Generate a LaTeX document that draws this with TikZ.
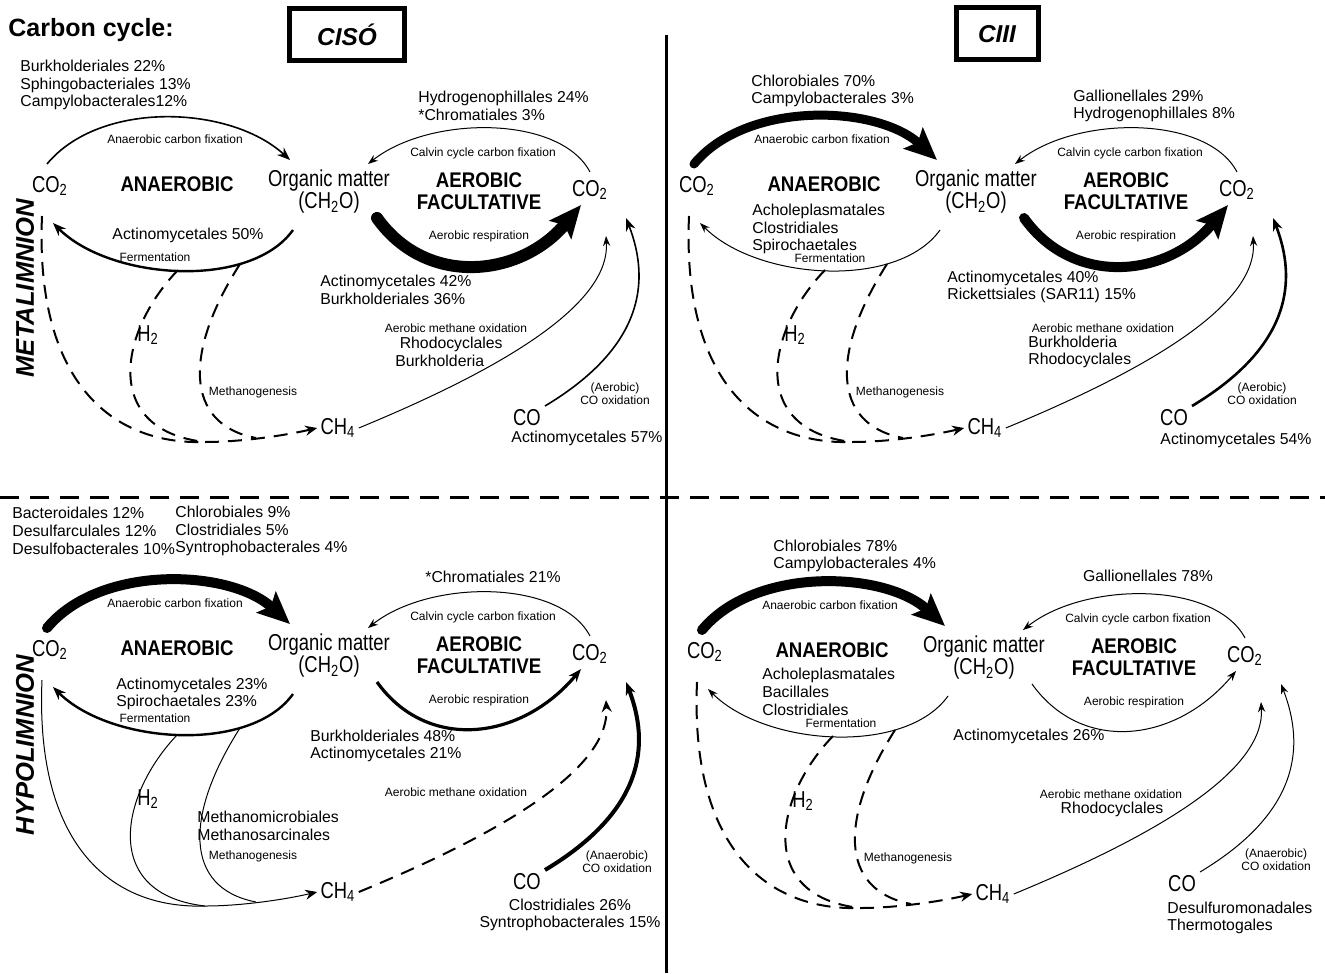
\documentclass[tikz,border=0pt]{standalone}
\usepackage{fontspec}
\setmainfont{Liberation Sans}
\newfontfamily\narrowfont[FakeStretch=0.8]{Liberation Sans}
\newfontfamily\zonefont[FakeStretch=0.88]{Liberation Sans}
\usetikzlibrary{arrows.meta}
\tikzset{chem/.style={font=\narrowfont\fontsize{11.5}{11}\selectfont,inner sep=1.5pt,align=center},
 zone/.style={font=\zonefont\bfseries\fontsize{10.6}{11}\selectfont,align=center,inner sep=0pt},
 taxa/.style={font=\fontsize{7.9}{8.9}\selectfont,align=left,anchor=west,inner sep=0pt},
 proc/.style={font=\fontsize{6}{6.6}\selectfont,align=center,inner sep=0pt},
 weak/.style={line width=0.5pt,-{Stealth[length=5pt,width=3.6pt]}},
 strong/.style={line width=#1,-{Stealth[length=6.5pt,width=5pt]}}, strong/.default=1.2pt,
 heavy/.style={line width=#1,line cap=round,-{Stealth[length=16pt,width=14pt,inset=3pt]}}, heavy/.default=5pt,
 meth/.style={line width=1pt,dash pattern=on 7pt off 4.5pt},
 methline/.style={line width=0.5pt},
 mtip/.style={-{Stealth[length=6pt,width=5pt]}},
 panelbox/.style={draw,line width=2.5pt,minimum width=57.5pt,minimum height=26pt,font=\bfseries\itshape\fontsize{12.2}{14}\selectfont},
 layer/.style={rotate=90,font=\bfseries\itshape\fontsize{12.8}{14}\selectfont,inner sep=0pt}}

\begin{document}
\begin{tikzpicture}[x=0.5pt,y=-0.5pt]
\useasboundingbox (0,0) rectangle (1325,973);
% frame of the figure
\node[font=\bfseries\fontsize{12.5}{14}\selectfont,anchor=west,inner sep=0pt] (title) at (8,30) {Carbon cycle:};
\node[panelbox] (ciso) at (347,35) {CISÓ};
\node[panelbox,minimum width=41pt] (ciii) at (997,34) {CIII};
\node[layer] (metal) at (25,288) {METALIMNION};
\node[layer] (hypo) at (25,745) {HYPOLIMNION};
\draw[line width=1.5pt] (666,35) -- (666,973);
\draw[line width=1.5pt,dash pattern=on 9.5pt off 5.5pt] (0,497) -- (1325,497);

% nodes shared by the four panels
\foreach \p/\dx/\dy in {a/0/0,b/647/0,c/0/464,d/655/466}{
\begin{scope}[shift={(\dx,\dy)}]
\node[chem] (\p-cl) at (50,186) {CO\textsubscript{2}};
\node[zone] (\p-an) at (177,184) {ANAEROBIC};
\node[chem] (\p-om) at (329,192) {Organic matter\\(CH\textsubscript{2}O)};
\node[zone] (\p-ae) at (479,191) {AEROBIC\\FACULTATIVE};
\node[chem] (\p-cr) at (590,190) {CO\textsubscript{2}};
\node[chem] (\p-ch) at (338,428) {CH\textsubscript{4}};
\node[chem] (\p-co) at (527,418) {CO};
\node[chem] (\p-h) at (148,335) {H\textsubscript{2}};
\node[proc] (\p-lfix) at (175,139) {Anaerobic carbon fixation};
\node[proc] (\p-lcal) at (483,153) {Calvin cycle carbon fixation};
\node[proc] (\p-lres) at (479,236) {Aerobic respiration};
\node[proc] (\p-lmg) at (253,392) {Methanogenesis};
\node[proc] (\p-lmo) at (456,328) {Aerobic methane oxidation};
\coordinate (\p-f0) at (47,164); \coordinate (\p-f1) at (290,160);
\coordinate (\p-c0) at (590,172); \coordinate (\p-c1) at (368,164);
\coordinate (\p-r0) at (377,218); \coordinate (\p-r1) at (581,205);
\coordinate (\p-e0) at (293,230); \coordinate (\p-e1) at (53,223);
\coordinate (\p-m0) at (42,216); \coordinate (\p-m1) at (178,270);
\coordinate (\p-m2) at (240,264); \coordinate (\p-j) at (205,442);
\coordinate (\p-k) at (256,438); \coordinate (\p-o1) at (606,236);
\coordinate (\p-x0) at (545,406); \coordinate (\p-x1) at (626,218);
\end{scope}}

% CISO metalimnion
\node[taxa] (a-t1) at (20,85) {Burkholderiales 22\%\\Sphingobacteriales 13\%\\Campylobacterales12\%};
\node[taxa] (a-t2) at (418,106) {Hydrogenophillales 24\%\\*Chromatiales 3\%};
\node[taxa] (a-t3) at (320,290) {Actinomycetales 42\%\\Burkholderiales 36\%};
\node[taxa,anchor=center] (a-t4) at (188,235) {Actinomycetales 50\%};
\node[proc] (a-lfe) at (155,257) {Fermentation};
\node[taxa] (a-t5) at (395,352) {\ Rhodocyclales\\Burkholderia};
\node[proc] (a-lco) at (615,394) {(Aerobic)\\CO oxidation};
\node[taxa,anchor=center] (a-t6) at (587,438) {Actinomycetales 57\%};
\draw[strong=0.8pt] (a-f0) .. controls +(53,-64) and +(-60,-55) .. (a-f1);
\draw[weak] (a-c0) .. controls +(-30,-57) and +(62,-49) .. (a-c1);
\draw[heavy=6pt] (a-r0) .. controls +(50,70) and +(-60,72) .. (a-r1);
\draw[strong=1.2pt] (a-e0) .. controls +(-43,60) and +(57,57) .. (a-e1);
\draw[meth] (a-m0) .. controls +(-7,164) and +(-95,3) .. (a-j);
\draw[meth] (a-m1) .. controls +(-58,60) and +(-105,-12) .. (a-j);
\draw[meth] (a-m2) .. controls +(-55,86) and +(-73,-14) .. (a-k);
\draw[meth,mtip] (a-j) .. controls +(35,0) and +(-35,8) .. (a-ch.west);
\draw[weak] (a-ch.east) .. controls +(160,-66) and +(4,64) .. (a-o1);
\draw[strong=0.8pt] (a-x0) .. controls +(100,-60) and +(24,62) .. (a-x1);

% CIII metalimnion
\node[taxa] (b-t1) at (751,91) {Chlorobiales 70\%\\Campylobacterales 3\%};
\node[taxa] (b-t2) at (1073,106) {Gallionellales 29\%\\Hydrogenophillales 8\%};
\node[taxa] (b-t3) at (752,229) {Acholeplasmatales\\Clostridiales\\Spirochaetales};
\node[proc] (b-lfe) at (830,258) {Fermentation};
\node[taxa] (b-t4) at (947,287) {Actinomycetales 40\%\\Rickettsiales (SAR11) 15\%};
\node[taxa] (b-t5) at (1028,352) {Burkholderia\\Rhodocyclales};
\node[proc] (b-lco) at (1262,394) {(Aerobic)\\CO oxidation};
\node[taxa,anchor=center] (b-t6) at (1236,440) {Actinomycetales 54\%};
\draw[heavy=4.5pt] (b-f0) .. controls +(53,-64) and +(-60,-55) .. (b-f1);
\draw[weak] (b-c0) .. controls +(-30,-57) and +(62,-49) .. (b-c1);
\draw[heavy=5pt] (b-r0) .. controls +(50,70) and +(-60,72) .. (b-r1);
\draw[weak] (b-e0) .. controls +(-43,60) and +(57,57) .. (b-e1);
\draw[meth] (b-m0) .. controls +(-7,164) and +(-95,3) .. (b-j);
\draw[meth] (b-m1) .. controls +(-58,60) and +(-105,-12) .. (b-j);
\draw[meth] (b-m2) .. controls +(-55,86) and +(-73,-14) .. (b-k);
\draw[meth,mtip] (b-j) .. controls +(35,0) and +(-35,8) .. (b-ch.west);
\draw[weak] (b-ch.east) .. controls +(160,-66) and +(4,64) .. (b-o1);
\draw[strong=1.3pt] (b-x0) .. controls +(100,-60) and +(24,62) .. (b-x1);

% CISO hypolimnion
\node[taxa] (c-t1) at (12,531) {Bacteroidales 12\%\\Desulfarculales 12\%\\Desulfobacterales 10\%};
\node[taxa] (c-t2) at (175,531) {Chlorobiales 9\%\\Clostridiales 5\%\\Syntrophobacterales 4\%};
\node[taxa,anchor=center] (c-t3) at (493,577) {*Chromatiales 21\%};
\node[taxa] (c-t4) at (116,694) {Actinomycetales 23\%\\Spirochaetales 23\%};
\node[proc] (c-lfe) at (155,718) {Fermentation};
\node[taxa] (c-t5) at (310,746) {Burkholderiales 48\%\\Actinomycetales 21\%};
\node[taxa] (c-t6) at (197,826) {Methanomicrobiales\\Methanosarcinales};
\node[proc] (c-lco) at (617,862) {(Anaerobic)\\CO oxidation};
\node[taxa,align=center,anchor=center] (c-t7) at (570,915) {Clostridiales 26\%\\Syntrophobacterales 15\%};
\draw[heavy=5pt] (c-f0) .. controls +(53,-64) and +(-60,-55) .. (c-f1);
\draw[weak] (c-c0) .. controls +(-30,-57) and +(62,-49) .. (c-c1);
\draw[strong=1.6pt] (c-r0) .. controls +(50,70) and +(-60,72) .. (c-r1);
\draw[strong=1.2pt] (c-e0) .. controls +(-43,60) and +(57,57) .. (c-e1);
\draw[methline] (c-m0) .. controls +(-7,164) and +(-95,3) .. (c-j);
\draw[methline] (c-m1) .. controls +(-58,60) and +(-105,-12) .. (c-j);
\draw[methline] (c-m2) .. controls +(-55,86) and +(-73,-14) .. (c-k);
\draw[methline,mtip] (c-j) .. controls +(35,0) and +(-35,8) .. (c-ch.west);
\draw[meth,mtip] (c-ch.east) .. controls +(160,-66) and +(4,64) .. (c-o1);
\draw[strong=2pt] (c-x0) .. controls +(100,-60) and +(24,62) .. (c-x1);

% CIII hypolimnion
\node[taxa] (d-t1) at (773,556) {Chlorobiales 78\%\\Campylobacterales 4\%};
\node[taxa,anchor=center] (d-t2) at (1148,576) {Gallionellales 78\%};
\node[taxa] (d-t3) at (762,692) {Acholeplasmatales\\Bacillales\\Clostridiales};
\node[proc] (d-lfe) at (841,723) {Fermentation};
\node[taxa,anchor=center] (d-t4) at (1029,736) {Actinomycetales 26\%};
\node[taxa,anchor=center] (d-t5) at (1112,809) {Rhodocyclales};
\node[proc] (d-lco) at (1276,860) {(Anaerobic)\\CO oxidation};
\node[taxa] (d-t6) at (1167,918) {Desulfuromonadales\\Thermotogales};
\draw[heavy=5pt] (d-f0) .. controls +(53,-64) and +(-60,-55) .. (d-f1);
\draw[weak] (d-c0) .. controls +(-30,-57) and +(62,-49) .. (d-c1);
\draw[weak] (d-r0) .. controls +(50,70) and +(-60,72) .. (d-r1);
\draw[weak] (d-e0) .. controls +(-43,60) and +(57,57) .. (d-e1);
\draw[meth] (d-m0) .. controls +(-7,164) and +(-95,3) .. (d-j);
\draw[meth] (d-m1) .. controls +(-58,60) and +(-105,-12) .. (d-j);
\draw[meth] (d-m2) .. controls +(-55,86) and +(-73,-14) .. (d-k);
\draw[meth,mtip] (d-j) .. controls +(35,0) and +(-35,8) .. (d-ch.west);
\draw[weak] (d-ch.east) .. controls +(160,-66) and +(4,64) .. (d-o1);
\draw[weak] (d-x0) .. controls +(100,-60) and +(24,62) .. (d-x1);
\end{tikzpicture}
\end{document}
